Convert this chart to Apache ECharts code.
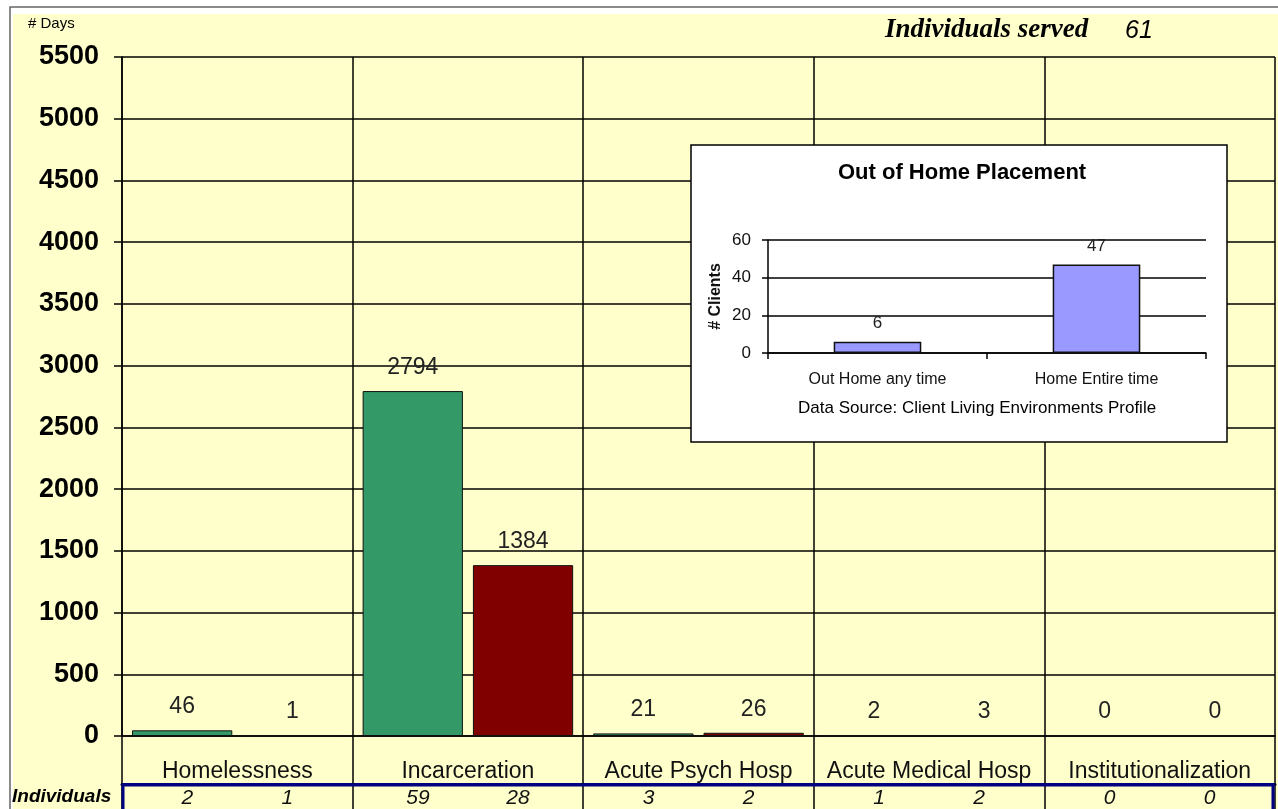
<!DOCTYPE html>
<html>
<head>
<meta charset="utf-8">
<script src="https://cdn.jsdelivr.net/npm/echarts@6/dist/echarts.min.js"></script>
<style>
  html, body { margin: 0; padding: 0; background: #fff; }
  #main { width: 1278px; height: 809px; }
</style>
</head>
<body>
<div id="main"></div>
<script>
// main chart data
var categories = ['Homelessness', 'Incarceration', 'Acute Psych Hosp', 'Acute Medical Hosp', 'Institutionalization']
var daysA = [46, 2794, 21, 2, 0]
var daysB = [1, 1384, 26, 3, 0]
var indivA = [2, 59, 3, 1, 0]
var indivB = [1, 28, 2, 2, 0]
var yTicks = { min: 0, max: 5500, interval: 500 }
var served = 61

// inset chart data
var insetCategories = ['Out Home any time', 'Home Entire time']
var insetValues = [6, 47]

var chart = echarts.init(document.getElementById('main'))

var option = {
  backgroundColor: '#ffffff',
  animation: false,
  textStyle: { fontFamily: 'Liberation Sans, Arial, sans-serif', color: '#000' },
  graphic: [
    { type: 'rect', z: -10, shape: { x: 10, y: 7, width: 1300, height: 900 }, style: { fill: '#ffffff', stroke: '#666', lineWidth: 1.5 } },
    { type: 'rect', z: -9, shape: { x: 13, y: 14, width: 1300, height: 900 }, style: { fill: '#ffffcc' } },
    { type: 'text', left: 28, top: 16, style: { text: '# Days', font: '15px Liberation Sans', fill: '#000' } },
    { type: 'text', left: 885, top: 17, style: { text: 'Individuals served', font: 'italic bold 27px Liberation Serif', fill: '#000' } },
    { type: 'text', left: 1125, top: 19, style: { text: String(served), font: 'italic 25px Liberation Sans', fill: '#000' } },
    { type: 'text', left: 12, top: 787, style: { text: 'Individuals', font: 'italic bold 19px Liberation Sans', fill: '#000' } },
    // individuals row frame
    { type: 'rect', z: 20, shape: { x: 123, y: 785, width: 1150, height: 60 }, style: { fill: 'none', stroke: '#000080', lineWidth: 3 } },
    // inset box
    { type: 'rect', z: 5, shape: { x: 691, y: 145, width: 536, height: 297 }, style: { fill: '#ffffff', stroke: '#000', lineWidth: 1.5 } },
    { type: 'text', z: 12, left: 838, top: 162, style: { text: 'Out of Home Placement', font: 'bold 22px Liberation Sans', fill: '#000' } },
    { type: 'text', z: 12, left: 798, top: 400, style: { text: 'Data Source: Client Living Environments Profile', font: '17px Liberation Sans', fill: '#000' } }
  ],
  grid: [
    { left: 122, right: 3, top: 57, bottom: 72 },
    { left: 768, right: 72, top: 240, bottom: 456 }
  ],
  xAxis: [
    {
      type: 'category',
      gridIndex: 0,
      data: categories,
      axisLine: { lineStyle: { color: '#000', width: 1.5 } },
      axisTick: { show: true, length: 48, lineStyle: { color: '#000', width: 1.5 } },
      splitLine: { show: true, lineStyle: { color: '#000', width: 1.5 } },
      axisLabel: { interval: 0, fontSize: 23, color: '#111', margin: 24 }
    },
    {
      type: 'category',
      gridIndex: 0,
      position: 'bottom',
      offset: 48,
      data: categories,
      axisLine: { lineStyle: { color: '#000080', width: 3 } },
      axisTick: { show: true, length: 30, lineStyle: { color: '#000', width: 1.5 } },
      axisLabel: {
        interval: 0,
        margin: 4,
        formatter: function(value, index) {
          return '{a|' + indivA[index] + '}{b|' + indivB[index] + '}'
        },
        rich: {
          a: { width: 100, align: 'center', fontSize: 21, fontStyle: 'italic', color: '#111' },
          b: { width: 100, align: 'center', fontSize: 21, fontStyle: 'italic', color: '#111' }
        }
      }
    },
    {
      type: 'category',
      gridIndex: 1,
      z: 10,
      data: insetCategories,
      axisLine: { lineStyle: { color: '#000', width: 1.5 } },
      axisTick: { show: true, length: 6, lineStyle: { color: '#000', width: 1.5 } },
      axisLabel: { interval: 0, fontSize: 16, color: '#111', margin: 19 }
    }
  ],
  yAxis: [
    {
      type: 'value',
      gridIndex: 0,
      min: yTicks.min,
      max: yTicks.max,
      interval: yTicks.interval,
      axisLine: { show: true, lineStyle: { color: '#000', width: 1.5 } },
      axisTick: { show: true, length: 8, lineStyle: { color: '#000', width: 1.5 } },
      splitLine: { show: true, lineStyle: { color: '#000', width: 1.5 } },
      axisLabel: {
        fontSize: 27,
        fontWeight: 'bold',
        color: '#000',
        margin: 23,
        formatter: function(v) { return String(v) }
      }
    },
    {
      type: 'value',
      gridIndex: 1,
      z: 10,
      min: 0,
      max: 60,
      interval: 20,
      name: '# Clients',
      nameLocation: 'middle',
      nameGap: 44,
      nameTextStyle: { fontSize: 16, fontWeight: 'bold', color: '#111' },
      axisLine: { show: true, lineStyle: { color: '#000', width: 1.5 } },
      axisTick: { show: true, length: 6, lineStyle: { color: '#000', width: 1.5 } },
      splitLine: { show: true, lineStyle: { color: '#000', width: 1.5 } },
      axisLabel: { fontSize: 17, color: '#111', margin: 17 }
    }
  ],
  series: [
    {
      type: 'bar',
      xAxisIndex: 0,
      yAxisIndex: 0,
      data: daysA,
      barCategoryGap: '8.7%',
      barGap: '10%',
      itemStyle: { color: '#339966', borderColor: '#111', borderWidth: 1 },
      label: { show: true, position: 'top', distance: 12, fontSize: 23, color: '#222' }
    },
    {
      type: 'bar',
      xAxisIndex: 0,
      yAxisIndex: 0,
      data: daysB,
      barCategoryGap: '8.7%',
      barGap: '10%',
      itemStyle: { color: '#800000', borderColor: '#111', borderWidth: 1 },
      label: { show: true, position: 'top', distance: 12, fontSize: 23, color: '#222' }
    },
    {
      type: 'bar',
      xAxisIndex: 2,
      yAxisIndex: 1,
      z: 10,
      data: insetValues,
      barWidth: '40%',
      itemStyle: { color: '#9999ff', borderColor: '#111', borderWidth: 1.5 },
      label: { show: true, position: 'top', distance: 10, fontSize: 17, color: '#222' }
    }
  ]
}
chart.setOption(option)
</script>
</body>
</html>
